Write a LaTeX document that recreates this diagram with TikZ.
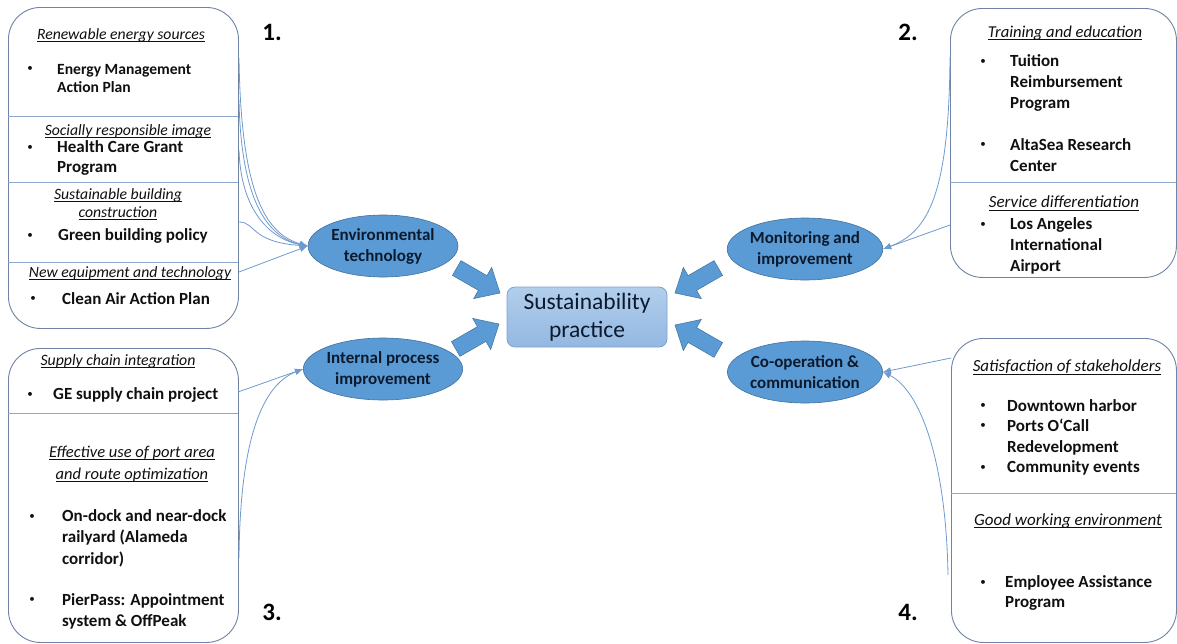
\documentclass[tikz,border=0pt]{standalone}
\usepackage{fontspec}
\setmainfont{Carlito}
\usetikzlibrary{arrows.meta,shapes.geometric}

\definecolor{ellfill}{HTML}{5B9BD5}
\definecolor{elldraw}{HTML}{41719C}
\definecolor{boxline}{HTML}{6E83A6}
\definecolor{divline}{HTML}{8DA9CF}
\definecolor{connc}{HTML}{6F9AD0}
\definecolor{ctrtop}{HTML}{B2CEEC}
\definecolor{ctrbot}{HTML}{93B8E2}
\definecolor{ctrdraw}{HTML}{7FA3CF}
\definecolor{elltext}{HTML}{0C1A2E}
\definecolor{txt}{HTML}{101010}

% underlined heading text with a rule at a fixed depth
\newlength\ulwd
\newcommand\ulx[1]{\settowidth\ulwd{#1}\makebox[0pt][l]{\rule[-2.4pt]{\ulwd}{0.6pt}}#1}

\tikzset{
  panel/.style={draw=boxline, line width=0.9pt, rounded corners=32pt, anchor=north west, inner sep=0pt},
  divider/.style={draw=divline, line width=0.8pt},
  ell/.style={ellipse, fill=ellfill, draw=elldraw, line width=0.6pt, minimum width=150pt, minimum height=62pt,
    inner sep=0pt, align=center, text=elltext, font=\fontsize{17}{21}\selectfont\bfseries},
  ctr/.style={rectangle, rounded corners=8pt, top color=ctrtop, bottom color=ctrbot, draw=ctrdraw, line width=0.8pt,
    minimum width=160pt, minimum height=60pt, inner sep=0pt, align=center, text=elltext,
    font=\fontsize{23.5}{28}\selectfont},
  head/.style={inner sep=0pt, align=center, text=txt, font=\fontsize{17}{21}\selectfont\itshape},
  headA/.style={head, font=\fontsize{15.7}{18}\selectfont\itshape},
  itm/.style={inner sep=0pt, align=left, anchor=west, text=txt, font=\fontsize{17}{20.7}\selectfont\bfseries},
  bul/.style={inner sep=0pt, text=txt, font=\fontsize{11}{14}\selectfont},
  num/.style={inner sep=0pt, text=black, font=\fontsize{25}{30}\selectfont\bfseries},
  conn/.style={draw=connc, line width=0.8pt, -{Latex[length=8pt,width=6.5pt]}},
  barrow/.pic={
    \filldraw[fill=ellfill, draw=elldraw, line width=0.5pt]
      (0,0) -- (-20,-18) -- (-20,-8.5) -- (-50,-8.5) -- (-50,8.5) -- (-20,8.5) -- (-20,18) -- cycle;
  }
}

\begin{document}
\begin{tikzpicture}[x=1pt, y=-1pt]
\useasboundingbox[fill=white] (0,0) rectangle (1177,643);

% ---------- the four panels ----------
\node[panel, minimum width=230pt, minimum height=321pt] (box1) at (8,7) {};
\node[panel, minimum width=230pt, minimum height=294pt] (box3) at (8,348) {};
\node[panel, minimum width=226pt, minimum height=269pt] (box2) at (950,8) {};
\node[panel, minimum width=225pt, minimum height=304pt] (box4) at (951,338) {};

\draw[divider] (8,116) -- (238,116);
\draw[divider] (8,182) -- (238,182);
\draw[divider] (8,262) -- (238,262);
\draw[divider] (8,413) -- (238,413);
\draw[divider] (950,182) -- (1176,182);
\draw[divider] (951,493) -- (1176,493);

% ---------- panel 1 ----------
\node[headA] (h11) at (121,35) {\ulx{Renewable energy sources}};
\node[bul] (u11) at (30,69) {•};
\node[itm, font=\fontsize{15.6}{18}\selectfont\bfseries] (t11) at (57,78) {Energy Management\\Action Plan};
\node[headA] (h12) at (128,131) {\ulx{Socially responsible image}};
\node[bul] (u12) at (30,148) {•};
\node[itm, font=\fontsize{17}{20}\selectfont\bfseries] (t12) at (57,158) {Health Care Grant\\Program};
\node[headA] (h13) at (118,204) {\ulx{Sustainable building}\\\ulx{construction}};
\node[bul] (u13) at (30,236) {•};
\node[itm] (t13) at (58,236) {Green building policy};
\node[headA] (h14) at (130,273) {\ulx{New equipment and technology}};
\node[bul] (u14) at (33,299) {•};
\node[itm] (t14) at (62,299) {Clean Air Action Plan};

% ---------- panel 3 ----------
\node[head, font=\fontsize{15.8}{21}\selectfont\itshape] (h31) at (118,361) {\ulx{Supply chain integration}};
\node[bul] (u31) at (30,395) {•};
\node[itm] (t31) at (53,395) {GE supply chain project};
\node[head, font=\fontsize{16.5}{22}\selectfont\itshape] (h32) at (132,464) {\ulx{Effective use of port area}\\\ulx{and route optimization}};
\node[bul] (u32) at (32,517) {•};
\node[itm, font=\fontsize{17}{21.5}\selectfont\bfseries] (t32) at (62,538) {On-dock and near-dock\\railyard (Alameda\\corridor)};
\node[bul] (u33) at (32,600) {•};
\node[itm, font=\fontsize{17}{21}\selectfont\bfseries] (t33) at (62,611) {PierPass: Appointment\\system \& OffPeak};

% ---------- panel 2 ----------
\node[head, font=\fontsize{16.6}{21}\selectfont\itshape] (h21) at (1065,33) {\ulx{Training and education}};
\node[bul] (u21) at (983,62) {•};
\node[itm] (t21) at (1010,83) {Tuition\\Reimbursement\\Program};
\node[bul] (u22) at (983,145) {•};
\node[itm] (t22) at (1010,155) {AltaSea Research\\Center};
\node[head] (h22) at (1064,203) {\ulx{Service differentiation}};
\node[bul] (u23) at (983,225) {•};
\node[itm] (t23) at (1010,246) {Los Angeles\\International\\Airport};

% ---------- panel 4 ----------
\node[head] (h41) at (1067,367) {\ulx{Satisfaction of stakeholders}};
\node[bul] (u41) at (983,406) {•};
\node[itm] (t41) at (1007,406) {Downtown harbor};
\node[bul] (u42) at (983,426) {•};
\node[itm] (t42) at (1007,437) {Ports O‘Call\\Redevelopment};
\node[bul] (u43) at (983,468) {•};
\node[itm] (t43) at (1007,468) {Community events};
\node[head] (h42) at (1068,521) {\ulx{Good working environment}};
\node[bul] (u44) at (983,583) {•};
\node[itm] (t44) at (1005,593) {Employee Assistance\\Program};

% ---------- numbers ----------
\node[num] (n1) at (272,32) {1.};
\node[num] (n2) at (908,32) {2.};
\node[num] (n3) at (272,612) {3.};
\node[num] (n4) at (908,612) {4.};

% ---------- central elements ----------
\node[ell] (env) at (383,246) {Environmental\\technology};
\node[ell] (ipi) at (383,369) {Internal process\\improvement};
\node[ell] (mon) at (805,249) {Monitoring and\\improvement};
\node[ell] (coop) at (805,372) {Co-operation \&\\communication};
\node[ctr] (sp) at (587,317) {Sustainability\\practice};

\pic[rotate=-30] at (500,293) {barrow};
\pic[rotate=30] at (499,324) {barrow};
\pic[rotate=-150] at (675,293) {barrow};
\pic[rotate=150] at (675,325) {barrow};

% ---------- connectors ----------
\coordinate (c1a) at (239,58);
\coordinate (c1b) at (239,100);
\coordinate (c1c) at (239,150);
\coordinate (c1d) at (239,222);
\coordinate (c1e) at (239,272);
\draw[conn] (c1a) .. controls (241,195) and (266,234) .. (env.west);
\draw[conn] (c1b) .. controls (241,205) and (270,238) .. (env.west);
\draw[conn] (c1c) .. controls (241,215) and (274,240) .. (env.west);
\draw[conn] (c1d) .. controls (256,222) and (250,242) .. (env.west);
\draw[conn] (c1e) -- (env.west);

\coordinate (c3a) at (238,392);
\coordinate (c3b) at (239,558);
\draw[conn] (c3a) -- (ipi.west);
\draw[conn] (c3b) .. controls (240,440) and (262,385) .. (ipi.west);

\coordinate (c2a) at (950,57);
\coordinate (c2b) at (950,225);
\draw[conn] (c2a) .. controls (949,195) and (928,232) .. (mon.east);
\draw[conn] (c2b) -- (mon.east);

\coordinate (c4a) at (951,358);
\coordinate (c4b) at (948,575);
\draw[conn] (c4a) -- (coop.east);
\draw[conn] (c4b) .. controls (946,460) and (920,390) .. (coop.east);
\end{tikzpicture}
\end{document}
